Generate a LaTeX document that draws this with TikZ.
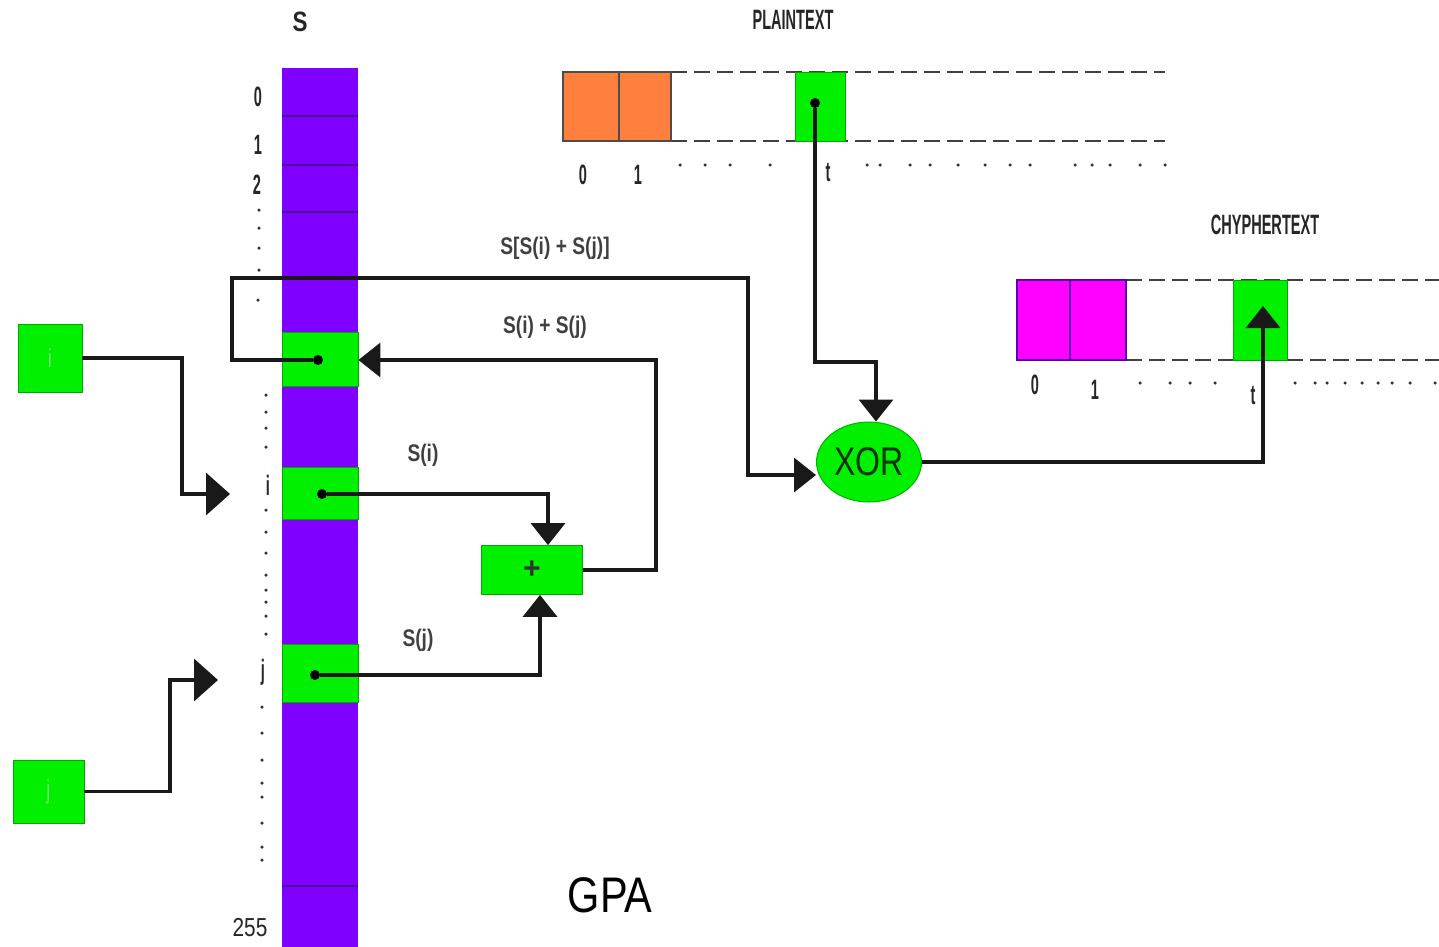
\documentclass[tikz,border=0pt]{standalone}
\usepackage{fontspec}
\setmainfont{Liberation Sans}
\newfontfamily\nar[FakeStretch=0.52]{Liberation Sans}
\newfontfamily\narb[FakeStretch=0.8]{Liberation Sans}
\newfontfamily\gpaf[FakeStretch=0.83]{Liberation Sans}
\usetikzlibrary{arrows.meta,shapes.geometric,calc}
\definecolor{purp}{HTML}{7F00FF}
\definecolor{grn}{HTML}{00F000}
\definecolor{orng}{HTML}{FF7F3F}
\definecolor{mag}{HTML}{FF00FF}
\begin{document}
\begin{tikzpicture}[x=1pt,y=-1pt,
  conn/.style={line width=3.5pt, draw=black!90},
  arr/.style={-{Triangle[length=22pt,width=34pt]}},
  bigarr/.style={-{Triangle[length=24pt,width=42pt]}},
  gcell/.style={draw=grn!70!black, line width=0.8pt, fill=grn, inner sep=0pt, rectangle},
  lbl/.style={font=\nar\bfseries\fontsize{28}{30}\selectfont, text=black!85, inner sep=0pt},
  slbl/.style={font=\narb\bfseries\fontsize{24}{26}\selectfont, text=black!75, inner sep=0pt},
  dotm/.style={circle, fill=black, inner sep=0pt, minimum size=10pt},
  smalldot/.style={circle, fill=black!80, inner sep=0pt, minimum size=3.5pt},
  dashline/.style={draw=black!75, line width=2pt, dash pattern=on 16pt off 7pt},
]
\useasboundingbox (0,0) rectangle (1439,946);
\fill[white] (0,0) rectangle (1439,946);

% ---------- S column ----------
\node[font=\narb\bfseries\fontsize{28}{30}\selectfont, inner sep=0pt, text=black!85] (Slab) at (300,22) {S};
\node[fill=purp, minimum width=76pt, minimum height=880pt, inner sep=0pt] (col) at (320,508) {};
\foreach \yy in {116,165,212,886} \draw[draw=purp!60!black, line width=1.2pt] (282,\yy) -- (358,\yy);
\node[gcell, minimum width=76pt, minimum height=54pt] (s1) at (320,359) {};
\node[gcell, minimum width=76pt, minimum height=52pt] (si) at (320,493) {};
\node[gcell, minimum width=76pt, minimum height=58pt] (sj) at (320,673) {};

% column index labels
\node[lbl] (n0) at (258,97) {0};
\node[lbl] (n1) at (258,145) {1};
\node[lbl] (n2) at (257,185) {2};
\node[lbl] (ni) at (268,485) {i};
\node[lbl] (nj) at (263,672) {j};
\node[font=\narb\fontsize{26}{28}\selectfont, inner sep=0pt, text=black!85] (n255) at (250,928) {255};
\foreach \xx/\yy in {259/210,259/228,259/248,259/270,258/300,
  266/395,266/412,266/428,266/447,
  266/510,266/532,266/553,266/575,266/590,266/602,266/616,266/634,
  262/707,262/733,262/760,262/783,262/797,262/823,262/847,262/860}
  \node[smalldot] at (\xx,\yy) {};

% ---------- i and j registers ----------
\node[gcell, minimum width=64pt, minimum height=68pt, font=\nar\fontsize{26}{28}\selectfont, text=grn!45!white] (ibox) at (50,358) {i};
\node[gcell, minimum width=71pt, minimum height=63pt, font=\nar\fontsize{26}{28}\selectfont, text=grn!45!white] (jbox) at (48.5,791.5) {j};
\coordinate (iel) at (182,494);
\coordinate (itip) at (230,494);
\coordinate (jel) at (170,680);
\coordinate (jtip) at (218,680);
\draw[conn, bigarr] (ibox.east) -| (iel) -- (itip);
\draw[conn, bigarr] (jbox.east) -| (jel) -- (jtip);

% ---------- adder ----------
\node[gcell, minimum width=101pt, minimum height=49pt, font=\fontsize{30}{32}\selectfont\bfseries, text=black!80] (plus) at (532,570) {+};

% ---------- plaintext ----------
\node[font=\nar\bfseries\fontsize{28}{30}\selectfont, inner sep=0pt, text=black!85] (ptlab) at (793,20) {PLAINTEXT};
\draw[dashline] (671,72) -- (1165,72);
\draw[dashline] (671,141) -- (1165,141);
\node[draw=black!70, line width=1.2pt, fill=orng, minimum width=56pt, minimum height=69pt, inner sep=0pt] (p0) at (591,106.5) {};
\node[draw=black!70, line width=1.2pt, fill=orng, minimum width=52pt, minimum height=69pt, inner sep=0pt] (p1) at (645,106.5) {};
\node[gcell, minimum width=50pt, minimum height=69pt] (pt) at (820,106.5) {};
\node[lbl] (pl0) at (583,175) {0};
\node[lbl] (pl1) at (638,175) {1};
\node[lbl] (plt) at (828,172) {t};
\foreach \xx in {680,705,730,770,867,880,910,930,958,985,1010,1030,1075,1092,1110,1140,1165}
  \node[smalldot] at (\xx,165) {};

% ---------- ciphertext ----------
\node[font=\nar\bfseries\fontsize{28}{30}\selectfont, inner sep=0pt, text=black!85] (ctlab) at (1265,225) {CHYPHERTEXT};
\draw[dashline] (1126,280) -- (1439,280);
\draw[dashline] (1126,360) -- (1439,360);
\node[draw=purp!70!black, line width=1.2pt, fill=mag, minimum width=53pt, minimum height=80pt, inner sep=0pt] (c0) at (1043.5,320) {};
\node[draw=purp!70!black, line width=1.2pt, fill=mag, minimum width=56pt, minimum height=80pt, inner sep=0pt] (c1) at (1098,320) {};
\node[gcell, minimum width=54pt, minimum height=80pt] (ct) at (1260,320) {};
\node[lbl] (cl0) at (1035,385) {0};
\node[lbl] (cl1) at (1095,390) {1};
\node[lbl] (clt) at (1253,395) {t};
\foreach \xx in {1140,1170,1190,1215,1295,1315,1327,1345,1362,1378,1392,1410,1435}
  \node[smalldot] at (\xx,383) {};

% ---------- XOR ----------
\node[ellipse, fill=grn, draw=grn!75!black, line width=1pt, minimum width=105pt, minimum height=80pt, inner sep=0pt,
  font=\narb\fontsize{40}{42}\selectfont, text=black!80!green] (xor) at (869,462) {XOR};

% ---------- dots on cells ----------
\node[dotm] (s1d) at (318,360) {};
\node[dotm] (sid) at (322,494) {};
\node[dotm] (sjd) at (315,675) {};
\node[dotm] (ptd) at (815,103) {};

% ---------- connectors ----------
\draw[conn, arr] (sid) -| ([xshift=16pt]plus.north);
\draw[conn, arr] (sjd) -| ([xshift=8pt]plus.south);
\coordinate (sumel) at (656,360);
\draw[conn, arr] (plus.east) -| (sumel) -- (s1.east |- sumel);
\coordinate (lpA) at (232,278);
\coordinate (lpB) at (748,475);
\draw[conn, arr] (s1d) -| (lpA) -| (lpB) -- (lpB -| xor.west);
\coordinate (pel) at (876,362);
\draw[conn, arr] (ptd) |- (pel) -- (pel |- xor.north);
\coordinate (ctip) at (1263,306);
\draw[conn, arr] (xor.east) -| (ctip);

% ---------- labels ----------
\node[slbl] (lss) at (555,248) {S[S(i) + S(j)]};
\node[slbl] (lsum) at (545,327) {S(i) + S(j)};
\node[slbl] (lsi) at (423,455) {S(i)};
\node[slbl] (lsj) at (418,640) {S(j)};

\node[font=\gpaf\fontsize{50}{52}\selectfont, inner sep=0pt] (gpa) at (610,895) {GPA};
\end{tikzpicture}
\end{document}
